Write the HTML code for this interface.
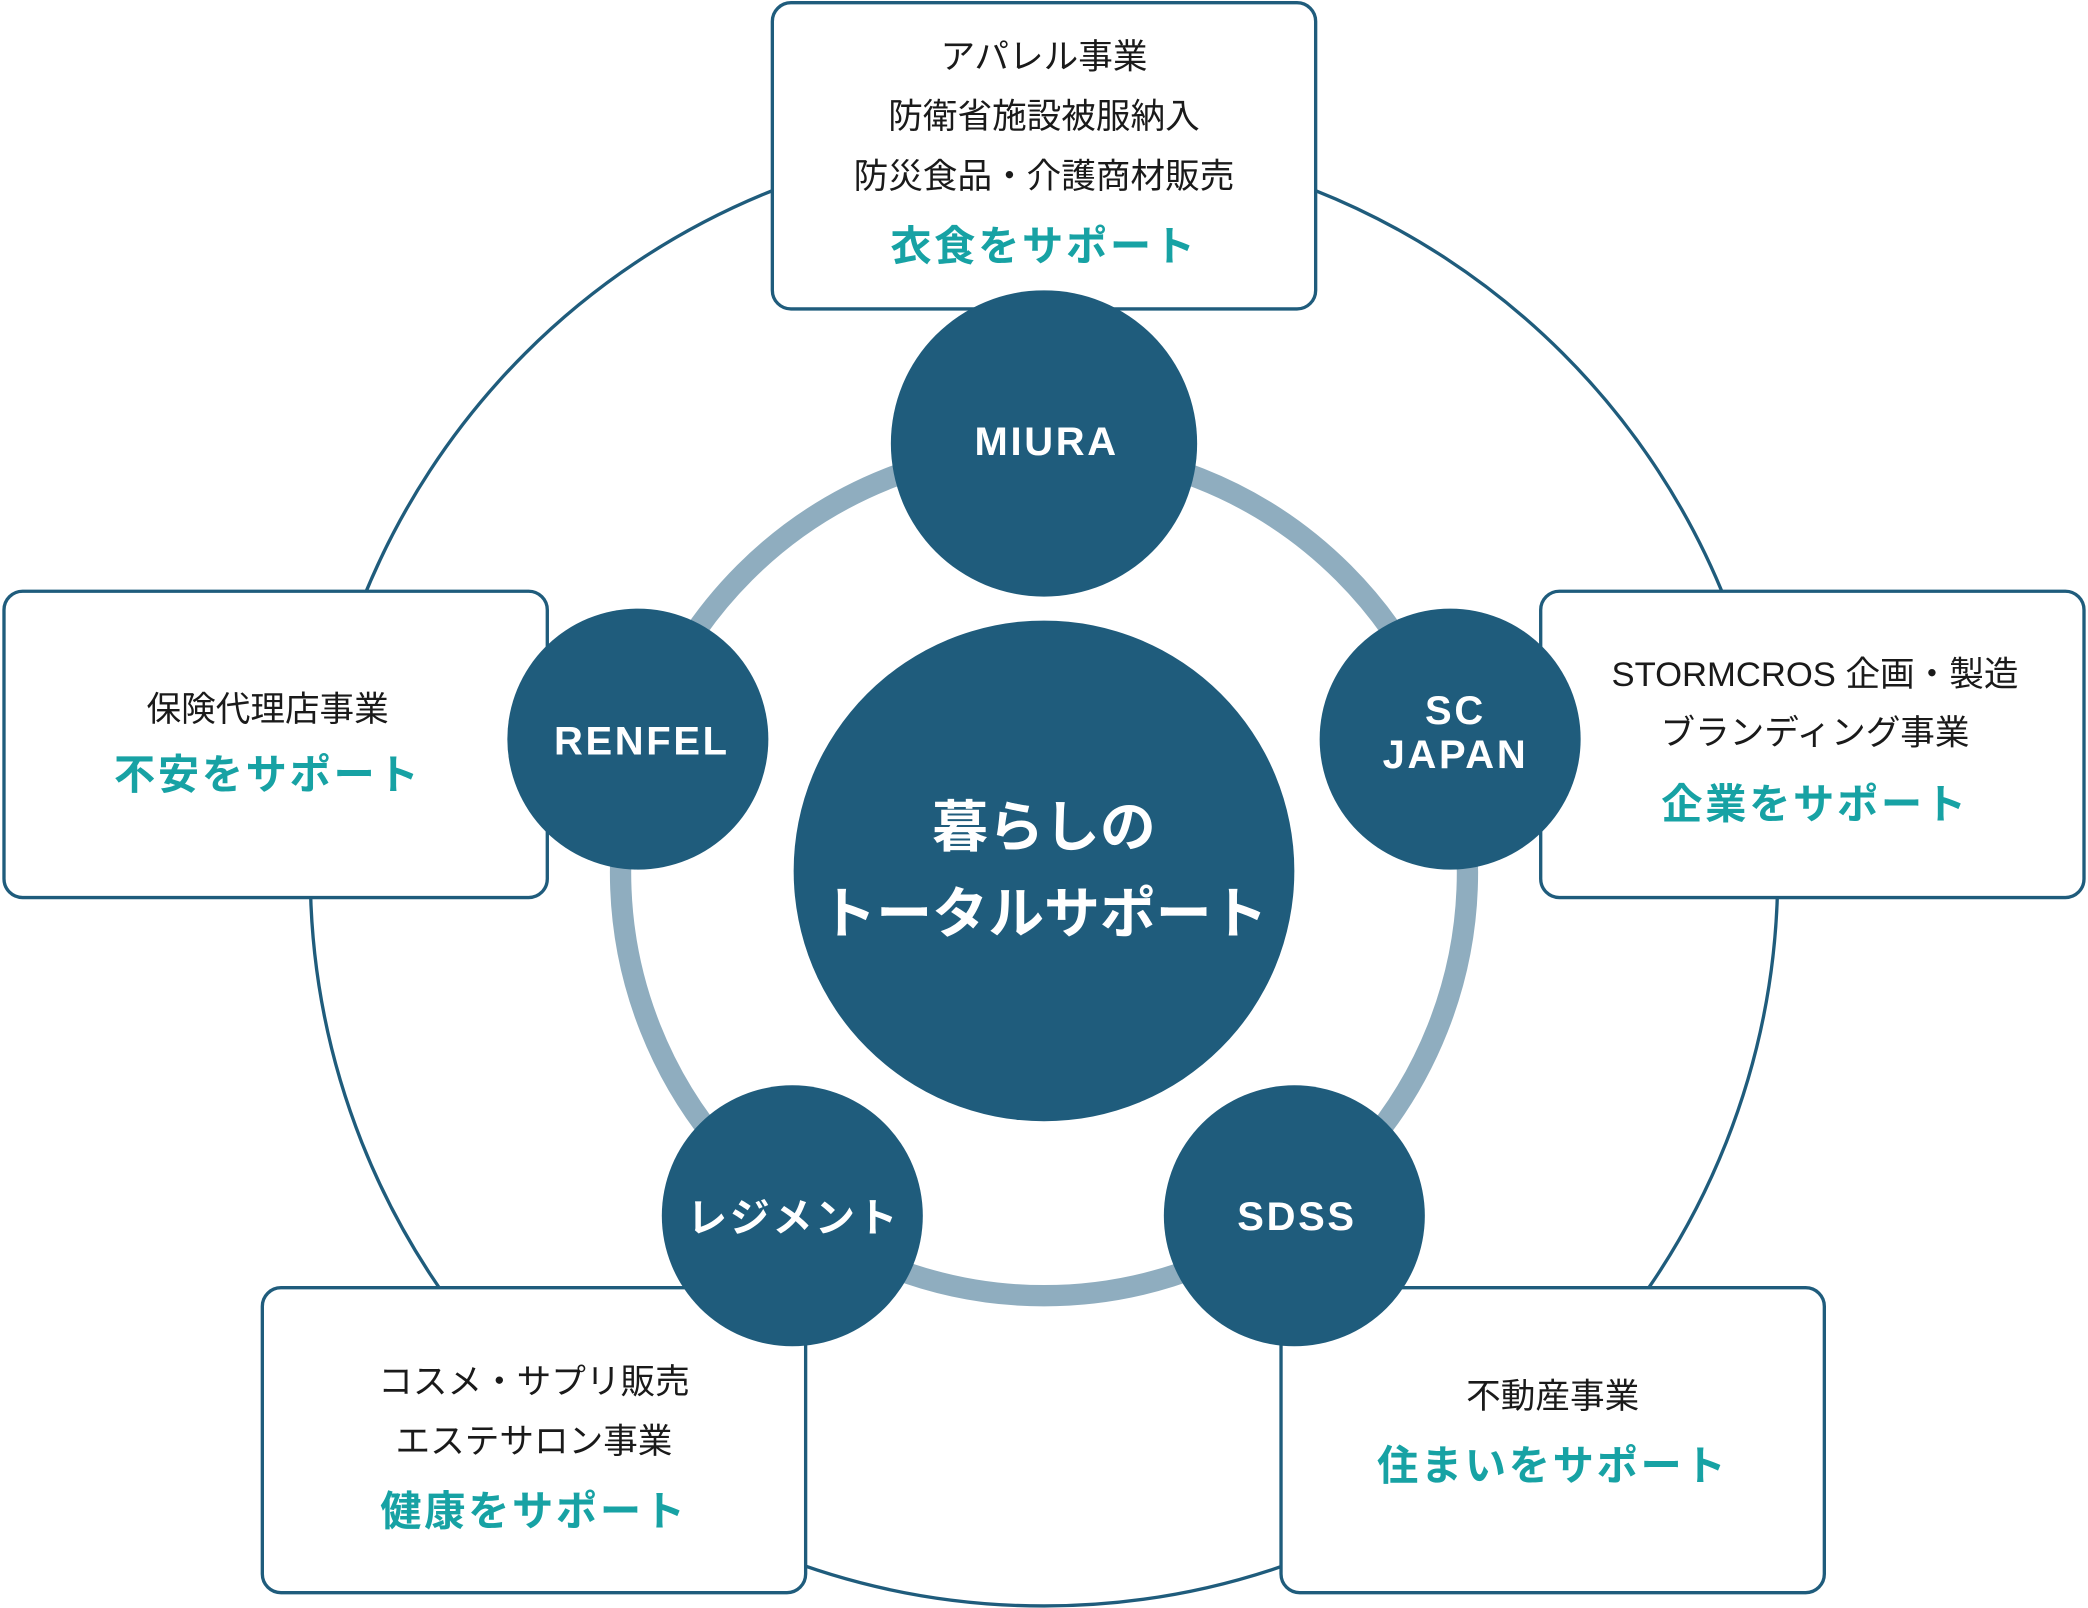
<!DOCTYPE html>
<html><head><meta charset="utf-8"><style>
html,body{margin:0;padding:0;background:#fff;}
svg{display:block;}
text{font-family:"Liberation Sans","Noto Sans CJK JP",sans-serif;text-anchor:middle;dominant-baseline:central;}
.b{font-size:26px;fill:#1a1a1a;}
.t{font-size:31px;font-weight:bold;fill:#17a2a4;letter-spacing:2px;}
.w{font-size:30px;font-weight:bold;fill:#fff;letter-spacing:2px;}
.c{font-size:42px;font-weight:bold;fill:#fff;}
</style></head><body>
<svg width="2088" height="1608" viewBox="0 0 1568 1207.5" xmlns="http://www.w3.org/2000/svg">
<circle cx="784" cy="655" r="551" fill="none" stroke="#1f5c7c" stroke-width="2.5"/>
<circle cx="784" cy="655" r="318" fill="none" stroke="#8fadbf" stroke-width="16"/>
<g fill="#fff" stroke="#1f5c7c" stroke-width="2.5">
<rect x="580" y="2" width="408" height="230" rx="14"/>
<rect x="3" y="444" width="408" height="230" rx="14"/>
<rect x="1157" y="444" width="408" height="230" rx="14"/>
<rect x="197" y="967" width="408" height="229" rx="14"/>
<rect x="962" y="967" width="408" height="229" rx="14"/>
</g>
<g fill="#1f5c7c">
<circle cx="784" cy="654" r="188"/>
<circle cx="784" cy="333" r="115"/>
<circle cx="479" cy="555" r="98"/>
<circle cx="1089" cy="555" r="98"/>
<circle cx="595" cy="913" r="98"/>
<circle cx="972" cy="913" r="98"/>
</g>
<text class="b" x="784" y="43">アパレル事業</text>
<text class="b" x="784" y="88">防衛省施設被服納入</text>
<text class="b" x="784" y="133">防災食品・介護商材販売</text>
<text class="t" x="784" y="185">衣食をサポート</text>
<text class="b" x="201" y="533">保険代理店事業</text>
<text class="t" x="201" y="582">不安をサポート</text>
<text class="b" x="1363" y="507">STORMCROS 企画・製造</text>
<text class="b" x="1363" y="551">ブランディング事業</text>
<text class="t" x="1363" y="604">企業をサポート</text>
<text class="b" x="401" y="1038">コスメ・サプリ販売</text>
<text class="b" x="401" y="1083">エステサロン事業</text>
<text class="t" x="401" y="1135">健康をサポート</text>
<text class="b" x="1166" y="1049">不動産事業</text>
<text class="t" x="1166" y="1101">住まいをサポート</text>
<text class="w" x="786" y="332">MIURA</text>
<text class="w" x="482" y="557">RENFEL</text>
<text class="w" x="1093" y="534">SC</text>
<text class="w" x="1093" y="567">JAPAN</text>
<text class="w" x="596" y="915">レジメント</text>
<text class="w" x="974" y="914">SDSS</text>
<text class="c" x="784" y="621">暮らしの</text>
<text class="c" x="784" y="686">トータルサポート</text>
</svg>
</body></html>
